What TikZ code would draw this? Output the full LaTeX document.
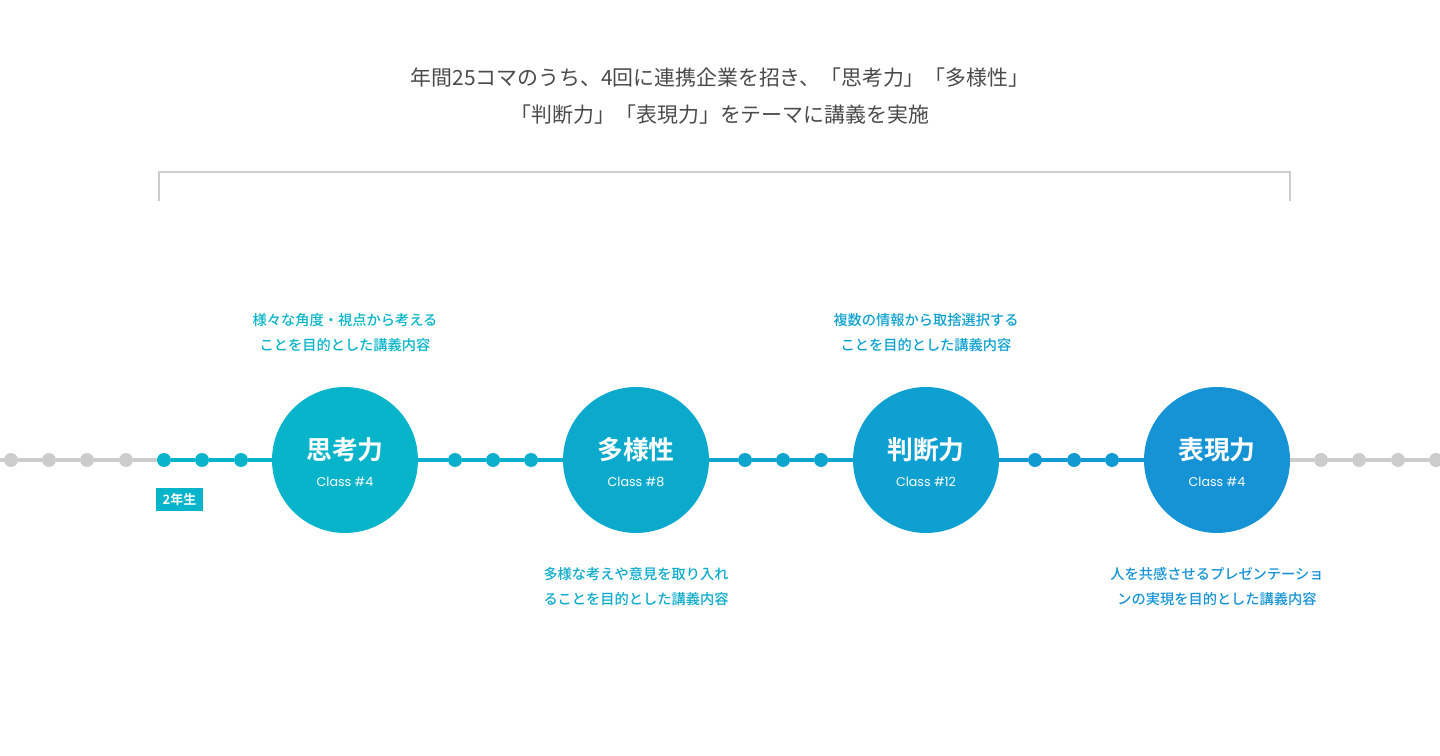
\documentclass[tikz,border=0pt]{standalone}
\usepackage{fontspec}
\setmainfont{Noto Sans CJK JP}[BoldFont={Noto Sans CJK JP Bold}]
\newfontfamily\medjp{Noto Sans CJK JP Medium}
\newfontfamily\classfont{Poppins}
\usetikzlibrary{positioning}

\definecolor{grayline}{HTML}{CCCCCC}
\definecolor{titlegray}{HTML}{4A4A4A}
\definecolor{teal1}{HTML}{07B4C9}
\definecolor{teal2}{HTML}{0BAACC}
\definecolor{teal3}{HTML}{0EA0D0}
\definecolor{teal4}{HTML}{1593D5}

\begin{document}
\begin{tikzpicture}[
    x=0.02cm, y=-0.02cm,
    big/.style={
        circle,
        fill=#1,
        minimum size=2.92cm,
        inner sep=0pt,
        align=center,
        text=white
    },
    dot/.style={
        circle,
        fill=#1,
        minimum size=0.28cm,
        inner sep=0pt
    },
    desc/.style={
        text=#1,
        align=center,
        font=\medjp\fontsize{8.1}{14.2}\selectfont
    },
    link/.style={line width=2pt, draw=#1}
]
\useasboundingbox (0,0) rectangle (1440,756);

% title
\node[align=center, text=titlegray, font=\fontsize{11.9}{21}\selectfont] (title) at (720,96)
{年間25コマのうち、4回に連携企業を招き、「思考力」「多様性」\\
「判断力」「表現力」をテーマに講義を実施};

\coordinate (BL) at (159,201);
\coordinate (BR) at (1290,201);
\draw[grayline, line width=1.2pt] (BL) |- (720,172) -| (BR);

% big circles
\node[big=teal1] (A) at (345,460) {};
\node[big=teal2] (B) at (636,460) {};
\node[big=teal3] (C) at (926,460) {};
\node[big=teal4] (D) at (1217,460) {};

\foreach \n/\t/\c in {A/思考力/4, B/多様性/8, C/判断力/12, D/表現力/4}{
  \node[text=white, font=\bfseries\fontsize{14.7}{16}\selectfont] at ([yshift=0.2cm]\n.center) {\t};
  \node[text=white, font=\classfont\fontsize{7.2}{9}\selectfont] at ([yshift=-0.44cm]\n.center) {Class \#\c};
}

% dots
\node[dot=grayline] (g1) at (11,460) {};
\node[dot=grayline] (g2) at (49,460) {};
\node[dot=grayline] (g3) at (87,460) {};
\node[dot=grayline] (g4) at (126,460) {};
\node[dot=teal1] (a1) at (164,460) {};
\node[dot=teal1] (a2) at (202,460) {};
\node[dot=teal1] (a3) at (241,460) {};
\node[dot=teal1!50!teal2] (b1) at (455,460) {};
\node[dot=teal1!50!teal2] (b2) at (493,460) {};
\node[dot=teal1!50!teal2] (b3) at (531,460) {};
\node[dot=teal2!50!teal3] (c1) at (745,460) {};
\node[dot=teal2!50!teal3] (c2) at (783,460) {};
\node[dot=teal2!50!teal3] (c3) at (821,460) {};
\node[dot=teal3!50!teal4] (d1) at (1035,460) {};
\node[dot=teal3!50!teal4] (d2) at (1074,460) {};
\node[dot=teal3!50!teal4] (d3) at (1112,460) {};
\node[dot=grayline] (g5) at (1321,460) {};
\node[dot=grayline] (g6) at (1359,460) {};
\node[dot=grayline] (g7) at (1398,460) {};
\node[dot=grayline] (g8) at (1436,460) {};

\coordinate (L) at (0,460);
\coordinate (R) at (1440,460);

\draw[link=grayline] (L) -- (g1) -- (g2) -- (g3) -- (g4) -- (a1);
\draw[link=teal1] (a1) -- (a2) -- (a3) -- (A);
\draw[link=teal1!50!teal2] (A) -- (b1) -- (b2) -- (b3) -- (B);
\draw[link=teal2!50!teal3] (B) -- (c1) -- (c2) -- (c3) -- (C);
\draw[link=teal3!50!teal4] (C) -- (d1) -- (d2) -- (d3) -- (D);
\draw[link=grayline] (D) -- (g5) -- (g6) -- (g7) -- (g8) -- (R);

% grade tag
\node[fill=teal1, text=white, minimum width=0.94cm, minimum height=0.46cm, inner sep=0pt,
      font=\bfseries\fontsize{7.4}{9}\selectfont] (tag) at (179.5,499.5) {2年生};

% descriptions
\node[desc=teal1] (dA) at (345,333)
{様々な角度・視点から考える\\ことを目的とした講義内容};
\node[desc=teal2] (dB) at (636,587)
{多様な考えや意見を取り入れ\\ることを目的とした講義内容};
\node[desc=teal3] (dC) at (926,333)
{複数の情報から取捨選択する\\ことを目的とした講義内容};
\node[desc=teal4] (dD) at (1217,587)
{人を共感させるプレゼンテーショ\\ンの実現を目的とした講義内容};

\end{tikzpicture}
\end{document}
